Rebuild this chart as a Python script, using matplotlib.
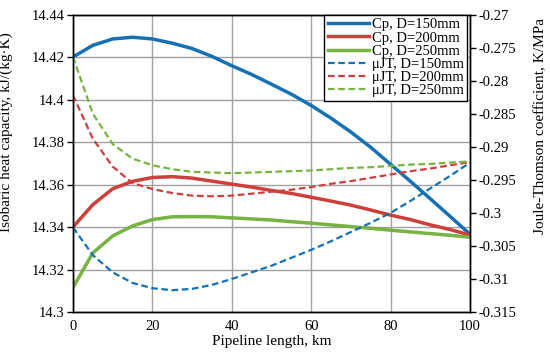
import matplotlib
matplotlib.use("Agg")
import matplotlib.pyplot as plt
from matplotlib.ticker import FuncFormatter, MultipleLocator

plt.rcParams['font.family'] = ['Liberation Serif', 'DejaVu Serif']
plt.rcParams['axes.unicode_minus'] = False

# pipeline length, km
length = [0, 5, 10, 15, 20, 25, 30, 35, 40, 45, 50,
          55, 60, 65, 70, 75, 80, 85, 90, 95, 100]

# isobaric heat capacity, kJ/(kg K)
cp_150 = [14.4200, 14.4255, 14.4285, 14.4293, 14.4285, 14.4265, 14.4240, 14.4203,
          14.4159, 14.4118, 14.4072, 14.4025, 14.3972, 14.3912, 14.3847, 14.3775,
          14.3695, 14.3615, 14.3533, 14.3450, 14.3366]
cp_200 = [14.3400, 14.3505, 14.3580, 14.3615, 14.3633, 14.3637, 14.3630, 14.3616,
          14.3602, 14.3588, 14.3572, 14.3558, 14.3540, 14.3522, 14.3503, 14.3480,
          14.3456, 14.3435, 14.3410, 14.3388, 14.3362]
cp_250 = [14.3115, 14.3278, 14.3358, 14.3405, 14.3435, 14.3448, 14.3449, 14.3448,
          14.3443, 14.3438, 14.3433, 14.3425, 14.3418, 14.3410, 14.3402, 14.3394,
          14.3385, 14.3377, 14.3369, 14.3361, 14.3352]

# Joule-Thomson coefficient, K/MPa
jt_150 = [-0.3022, -0.3064, -0.3090, -0.3106, -0.3114, -0.3117, -0.3115, -0.3109,
          -0.3100, -0.3090, -0.3080, -0.3068, -0.3056, -0.3043, -0.3029, -0.3015,
          -0.3000, -0.2982, -0.2963, -0.2944, -0.2924]
jt_200 = [-0.2822, -0.2888, -0.2930, -0.2955, -0.2964, -0.2970, -0.2974, -0.2975,
          -0.2974, -0.2971, -0.2968, -0.2965, -0.2961, -0.2956, -0.2952, -0.2947,
          -0.2942, -0.2937, -0.2933, -0.2928, -0.2923]
jt_250 = [-0.2764, -0.2850, -0.2896, -0.2918, -0.2928, -0.2934, -0.2938, -0.2939,
          -0.2940, -0.2939, -0.2938, -0.2937, -0.2936, -0.2934, -0.2932, -0.2931,
          -0.2929, -0.2927, -0.2926, -0.2924, -0.2922]

blue = '#1670B4'
red = '#CC3F3B'
green = '#77B243'

fig = plt.figure(figsize=(5.5, 3.61), dpi=100)
ax = fig.add_axes([0.1327, 0.1357, 0.7218, 0.8241])
ax2 = ax.twinx()

h1, = ax.plot(length, cp_150, color=blue, lw=2.5, label='Cp, D=150mm')
h2, = ax.plot(length, cp_200, color=red, lw=2.5, label='Cp, D=200mm')
h3, = ax.plot(length, cp_250, color=green, lw=2.5, label='Cp, D=250mm')
h4, = ax2.plot(length, jt_150, color=blue, lw=1.6, dashes=(3, 1.6), label='μJT, D=150mm')
h5, = ax2.plot(length, jt_200, color=red, lw=1.6, dashes=(3, 1.6), label='μJT, D=200mm')
h6, = ax2.plot(length, jt_250, color=green, lw=1.6, dashes=(3, 1.6), label='μJT, D=250mm')

ax.set_xlim(0, 100)
ax.set_ylim(14.3, 14.44)
ax2.set_ylim(-0.315, -0.27)
ax.xaxis.set_major_locator(MultipleLocator(20))
ax.yaxis.set_major_locator(MultipleLocator(0.02))
ax2.yaxis.set_major_locator(MultipleLocator(0.005))
ax.yaxis.set_major_formatter(FuncFormatter(lambda v, p: f'{v:.2f}'.rstrip('0').rstrip('.')))
ax2.yaxis.set_major_formatter(FuncFormatter(lambda v, p: f'{v:.3f}'.rstrip('0').rstrip('.')))

ax.grid(True, color='#A0A0A0', lw=1.0)
ax.set_axisbelow(True)
for a in (ax, ax2):
    for s in a.spines.values():
        s.set_color('black')
        s.set_linewidth(1.0)
ax.tick_params(axis='y', direction='out', length=4, width=1, labelsize=10.5, pad=2)
ax.tick_params(axis='x', length=0, labelsize=10.5, pad=6)
ax2.tick_params(axis='y', direction='out', length=4, width=1, labelsize=10.5, pad=2)

ax.set_xlabel('Pipeline length, km', fontsize=11, labelpad=1)
ax.set_ylabel('Isobaric heat capacity, kJ/(kg·K)', fontsize=11)
ax2.set_ylabel('Joule-Thomson coefficient, K/MPa', fontsize=11)
ax.yaxis.set_label_coords(-0.15, 0.605)
ax2.yaxis.set_label_coords(1.161, 0.625)

leg = ax2.legend(handles=[h1, h2, h3, h4, h5, h6], loc='upper right',
                 bbox_to_anchor=(0.993, 1.0), fontsize=10.5,
                 frameon=True, fancybox=False, framealpha=1, edgecolor='black',
                 borderaxespad=0, borderpad=0.25, labelspacing=0.0,
                 handlelength=2.85, handletextpad=0.15)
leg.get_frame().set_linewidth(1.0)

fig.savefig('out.png', dpi=100)
